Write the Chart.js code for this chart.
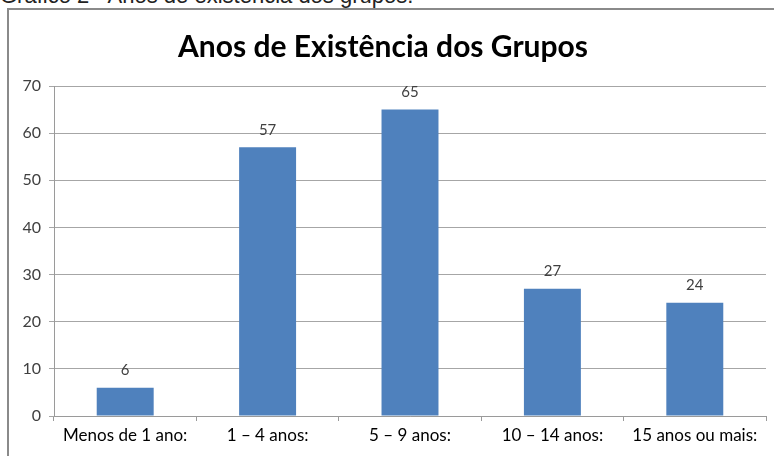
<!DOCTYPE html>
<html lang="pt">
<head>
<meta charset="utf-8">
<title>Anos de Existência dos Grupos</title>
<script src="https://cdn.jsdelivr.net/npm/chart.js@4"></script>
<style>
  html, body { margin: 0; padding: 0; background: #fff; overflow: hidden; }
  #wrap { position: relative; width: 774px; height: 456px; overflow: hidden; }
  #caption {
    position: absolute; left: 0; top: -17px;
    font: 22px "Liberation Sans", Arial, sans-serif; color: #222; white-space: nowrap;
  }
  #frame {
    position: absolute; left: 7px; top: 8px; width: 820px; height: 520px;
    border-left: 2px solid #8a8a8a; border-top: 2px solid #8a8a8a;
  }
  #myChart { position: absolute; left: 0; top: 0; }
</style>
</head>
<body>
<div id="wrap">
  <div id="caption">Gráfico 2 - Anos de existência dos grupos.</div>
  <div id="frame"></div>
  <canvas id="myChart" width="774" height="456"></canvas>
</div>
<script>
// dados do gráfico
const categorias = ['Menos de 1 ano:', '1 – 4 anos:', '5 – 9 anos:', '10 – 14 anos:', '15 anos ou mais:'];
const grupos = [6, 57, 65, 27, 24];
const yTicks = [0, 10, 20, 30, 40, 50, 60, 70];

const fonte = 'Lato, "Open Sans", sans-serif';

// rótulos de valor acima das barras
const rotulos = {
  id: 'rotulos',
  afterDatasetsDraw(chart) {
    const ctx = chart.ctx;
    const meta = chart.getDatasetMeta(0);
    ctx.save();
    ctx.font = '15px ' + fonte;
    ctx.fillStyle = '#404040';
    ctx.textAlign = 'center';
    ctx.textBaseline = 'bottom';
    meta.data.forEach((bar, i) => {
      ctx.fillText(String(grupos[i]), bar.x, bar.y - 10);
    });
    ctx.restore();
  }
};

const ctx = document.getElementById('myChart').getContext('2d');
const myChart = new Chart(ctx, {
  type: 'bar',
  data: {
    labels: categorias,
    datasets: [{
      label: 'Grupos',
      data: grupos,
      backgroundColor: '#4F81BD',
      categoryPercentage: 1,
      barPercentage: 0.4
    }]
  },
  options: {
    responsive: false,
    animation: false,
    layout: { padding: { left: 0, right: 8, top: 0, bottom: 0 } },
    plugins: {
      legend: { display: false },
      tooltip: { enabled: false },
      title: {
        display: true,
        text: 'Anos de Existência dos Grupos',
        color: '#000',
        font: { family: fonte, size: 30, weight: 'bold', lineHeight: 1.2 },
        padding: { top: 29, bottom: 21 }
      }
    },
    scales: {
      x: {
        offset: true,
        grid: { display: true, drawOnChartArea: false, drawTicks: true, tickLength: 5, color: '#9a9a9a', offset: true },
        border: { color: '#9a9a9a' },
        ticks: { color: '#000', font: { family: fonte, size: 17 }, padding: 4, maxRotation: 0 },
        afterFit(scale) { scale.height = 40; }
      },
      y: {
        min: 0,
        max: 70,
        afterBuildTicks(scale) { scale.ticks = yTicks.map(v => ({ value: v })); },
        grid: { color: '#a6a6a6', tickLength: 5 },
        border: { color: '#9a9a9a' },
        ticks: { color: '#404040', font: { family: fonte, size: 16 }, padding: 8 },
        afterFit(scale) { scale.width = 54; }
      }
    }
  },
  plugins: [rotulos]
});
</script>
</body>
</html>
